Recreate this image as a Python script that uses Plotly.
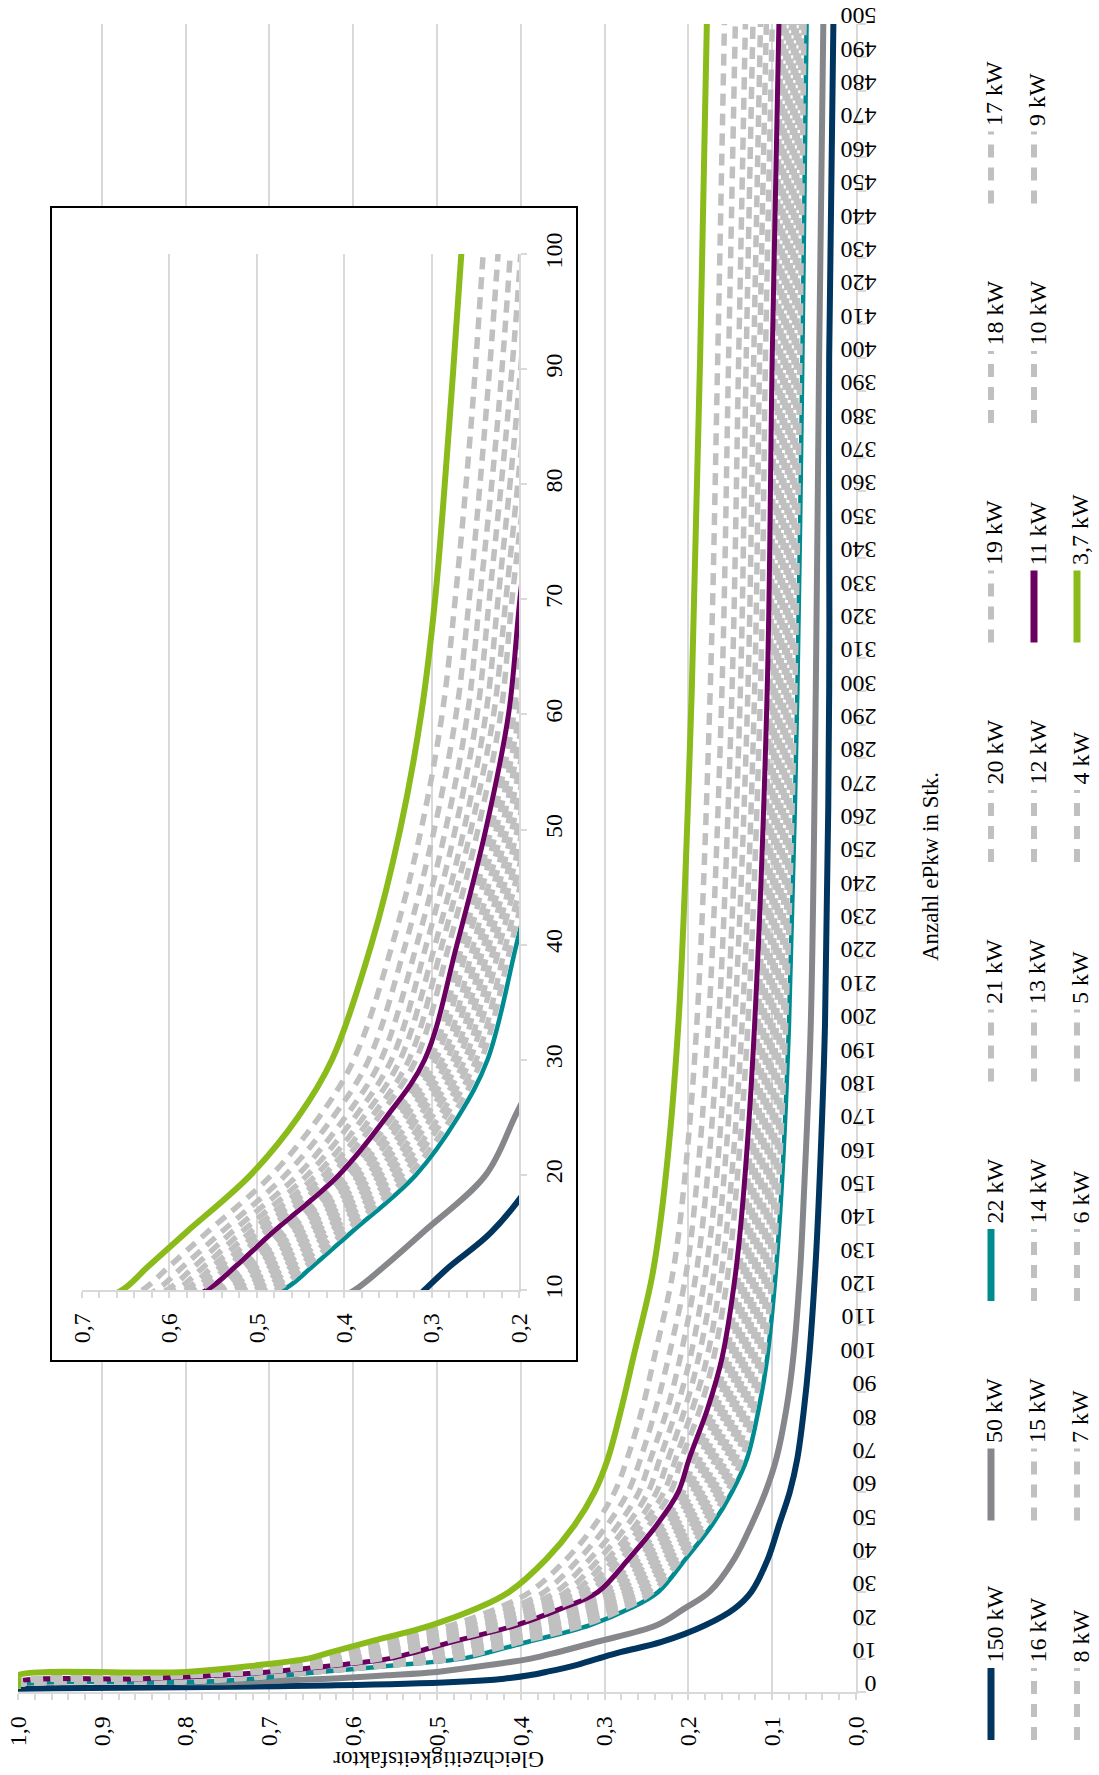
import plotly.graph_objects as go

# ---------------- data ----------------
N = [1, 2, 3, 4, 5, 6, 8, 10, 12, 15, 20, 25, 30, 40, 50, 60, 70, 85, 100, 125, 150, 200, 300, 400, 500]

kw150 = [1.0, 0.62, 0.48, 0.42, 0.39, 0.37, 0.335, 0.308, 0.28, 0.232, 0.18, 0.145, 0.125, 0.105, 0.092, 0.079, 0.07, 0.062, 0.056, 0.049, 0.044, 0.037, 0.032, 0.032, 0.027]
kw50 = [1.0, 1.0, 0.74, 0.63, 0.56, 0.50, 0.44, 0.388, 0.355, 0.31, 0.238, 0.205, 0.175, 0.145, 0.125, 0.108, 0.095, 0.083, 0.075, 0.067, 0.062, 0.054, 0.048, 0.044, 0.039]
kw22 = [1.0, 1.0, 0.78, 0.72, 0.68, 0.64, 0.55, 0.470, 0.437, 0.392, 0.318, 0.27, 0.236, 0.203, 0.172, 0.148, 0.130, 0.116, 0.106, 0.096, 0.089, 0.080, 0.070, 0.064, 0.059]
kw21 = [1, 1, .80, .732, .687, .645, .556, .478, .445, .400, .326, .277, .243, .209, .178, .154, .136, .122, .111, .100, .093, .084, .073, .067, .062]
kw20 = [1, 1, .82, .744, .695, .651, .563, .486, .453, .408, .334, .285, .249, .215, .184, .160, .143, .127, .116, .105, .097, .087, .077, .071, .065]
kw19 = [1, 1, .84, .755, .702, .656, .569, .494, .461, .417, .342, .292, .256, .222, .190, .165, .149, .133, .121, .109, .101, .091, .080, .074, .068]
kw18 = [1, 1, .86, .767, .709, .662, .575, .502, .469, .425, .350, .300, .262, .228, .196, .171, .155, .138, .126, .113, .105, .095, .083, .077, .071]
kw17 = [1, 1, .88, .779, .716, .667, .582, .510, .477, .433, .358, .307, .269, .234, .202, .177, .161, .144, .131, .118, .109, .099, .086, .080, .074]
kw16 = [1, 1, .90, .791, .724, .673, .588, .517, .485, .441, .366, .315, .275, .240, .208, .183, .168, .149, .135, .122, .114, .102, .090, .084, .077]
kw15 = [1, 1, .92, .803, .731, .678, .595, .525, .493, .449, .374, .322, .282, .246, .214, .189, .174, .155, .140, .127, .118, .106, .093, .087, .080]
kw14 = [1, 1, .94, .815, .738, .684, .601, .533, .501, .457, .382, .330, .288, .252, .220, .195, .180, .160, .145, .131, .122, .110, .096, .090, .083]
kw13 = [1, 1, .96, .826, .745, .689, .607, .541, .509, .466, .390, .337, .295, .259, .226, .200, .186, .166, .150, .135, .126, .114, .099, .093, .086]
kw12 = [1, 1, .98, .838, .753, .695, .614, .549, .517, .474, .398, .345, .301, .265, .232, .206, .193, .171, .155, .140, .130, .117, .103, .097, .089]
kw11 = [1.0, 1.0, 1.0, 0.85, 0.76, 0.70, 0.62, 0.557, 0.525, 0.482, 0.406, 0.352, 0.308, 0.271, 0.238, 0.212, 0.199, 0.177, 0.160, 0.144, 0.134, 0.121, 0.106, 0.100, 0.092]
kw10 = [1, 1, 1, .864, .782, .709, .629, .566, .534, .491, .415, .361, .318, .280, .247, .221, .208, .186, .170, .153, .143, .129, .114, .108, .100]
kw9 = [1, 1, 1, .876, .801, .717, .636, .574, .542, .499, .423, .369, .326, .288, .255, .229, .215, .195, .178, .161, .150, .136, .121, .115, .107]
kw8 = [1, 1, 1, .889, .822, .726, .645, .582, .551, .508, .432, .378, .336, .296, .263, .238, .224, .204, .188, .170, .159, .145, .129, .122, .114]
kw7 = [1, 1, 1, .904, .846, .736, .654, .592, .561, .518, .442, .388, .346, .306, .273, .248, .234, .214, .198, .180, .168, .154, .138, .131, .123]
kw6 = [1, 1, 1, .921, .873, .747, .665, .603, .572, .529, .453, .399, .358, .317, .284, .259, .245, .225, .210, .191, .179, .164, .148, .140, .132]
kw5 = [1, 1, 1, .940, .904, .760, .677, .615, .585, .541, .467, .413, .372, .330, .297, .272, .257, .239, .224, .203, .191, .176, .160, .152, .144]
kw4 = [1, 1, 1, .964, .942, .776, .692, .631, .601, .557, .483, .429, .389, .345, .312, .288, .273, .255, .241, .219, .206, .190, .174, .165, .157]
kw3_7 = [1.0, 1.0, 1.0, 1.0, 1.0, 0.80, 0.715, 0.654, 0.625, 0.581, 0.507, 0.453, 0.414, 0.369, 0.336, 0.312, 0.296, 0.280, 0.266, 0.243, 0.229, 0.212, 0.196, 0.186, 0.178]

labels = ["150 kW", "50 kW", "22 kW", "21 kW", "20 kW", "19 kW", "18 kW", "17 kW",
          "16 kW", "15 kW", "14 kW", "13 kW", "12 kW", "11 kW", "10 kW", "9 kW",
          "8 kW", "7 kW", "6 kW", "5 kW", "4 kW", "3,7 kW"]
series = [kw150, kw50, kw22, kw21, kw20, kw19, kw18, kw17, kw16, kw15, kw14, kw13,
          kw12, kw11, kw10, kw9, kw8, kw7, kw6, kw5, kw4, kw3_7]

main_ticks = [round(0.1 * i, 1) for i in range(11)]
inset_ticks = [0.2, 0.3, 0.4, 0.5, 0.6, 0.7]

# ---------------- styles ----------------
solid = {"150 kW": ("#00355f", 6), "50 kW": ("#86878b", 6), "22 kW": ("#008b91", 4.5),
         "11 kW": ("#6b0061", 5), "3,7 kW": ("#8bbb1a", 6)}
DASH_COL = "#c0c0c0"
FONT = "Liberation Serif, Times New Roman, DejaVu Serif, serif"
GRID = "#d9d9d9"

W, H = 1099, 1775
def fx(p):
    return p / W
def fy(p):
    return 1 - p / H

fig = go.Figure()

# dummy trace for the inset box subplot (its white background hides the main grid)
fig.add_trace(go.Scatter(x=[None], y=[None], xaxis="x2", yaxis="y2",
                         showlegend=False, hoverinfo="skip"))

for lab, vals in zip(labels, series):
    if lab in solid:
        col, w = solid[lab]
        line = dict(color=col, width=w, shape="spline", smoothing=1.0)
    else:
        line = dict(color=DASH_COL, width=5.5, dash="12px,8px", shape="spline", smoothing=1.0)
    fig.add_trace(go.Scatter(x=vals, y=N, mode="lines", line=line, name=lab,
                             showlegend=False, xaxis="x", yaxis="y"))
    fig.add_trace(go.Scatter(x=vals, y=N, mode="lines", line=line, name=lab,
                             showlegend=False, xaxis="x3", yaxis="y3"))

tfont = dict(family=FONT, size=24, color="black")
title_font = dict(family=FONT, size=23, color="black")

layout = dict(
    width=W, height=H, autosize=False,
    margin=dict(l=0, r=0, t=0, b=0, pad=0),
    paper_bgcolor="white", plot_bgcolor="white",
    separators=", ",
    showlegend=False,
    font=dict(family=FONT, size=24, color="black"),
    xaxis=dict(domain=[fx(18), fx(856)], range=[1.0, 0.0], anchor="y", automargin=False,
               tickvals=main_ticks, tickformat=".1f", tickangle=-90,
               tickfont=tfont, showgrid=True, gridcolor=GRID, gridwidth=1.5,
               zeroline=False, showline=True, linecolor=GRID, linewidth=1.5,
               ticks="outside", ticklen=6, tickcolor=GRID, tickwidth=1.5,
               minor=dict(dtick=0.02, ticks="outside", ticklen=6, tickcolor=GRID, showgrid=False),
               ticklabelstandoff=7, ticklabeloverflow="allow"),
    yaxis=dict(domain=[fy(1692), fy(24)], range=[0, 500], anchor="x", side="right",
               automargin=False,
               dtick=10, tick0=0, tickangle=180, tickfont=tfont,
               showgrid=False, zeroline=False, showline=True, linecolor=GRID, linewidth=1.5,
               ticks="outside", ticklen=8, tickcolor=GRID, tickwidth=1.5,
               ticklabelstandoff=6, ticklabeloverflow="allow"),
    xaxis2=dict(domain=[fx(51), fx(577)], range=[0, 1], anchor="y2", visible=False,
                automargin=False, showgrid=False, zeroline=False),
    yaxis2=dict(domain=[fy(1361), fy(207)], range=[0, 1], anchor="x2", visible=False,
                automargin=False, showgrid=False, zeroline=False),
    xaxis3=dict(domain=[fx(82), fx(519)], range=[0.7, 0.2], anchor="y3", automargin=False,
                tickvals=inset_ticks, tickformat=".1f", tickangle=-90, tickfont=tfont,
                showgrid=True, gridcolor=GRID, gridwidth=1.5, zeroline=False,
                showline=True, linecolor=GRID, linewidth=1.5,
                ticks="outside", ticklen=6, tickcolor=GRID, tickwidth=1.5,
                minor=dict(dtick=0.02, ticks="outside", ticklen=6, tickcolor=GRID, showgrid=False),
                ticklabelstandoff=6, ticklabeloverflow="allow"),
    yaxis3=dict(domain=[fy(1290), fy(254)], range=[10, 100], anchor="x3", side="right",
                automargin=False,
                dtick=10, tick0=0, tickangle=-90, tickfont=tfont,
                showgrid=False, zeroline=False, showline=True, linecolor=GRID, linewidth=1.5,
                ticks="outside", ticklen=6, tickcolor=GRID, tickwidth=1.5,
                ticklabelstandoff=6, ticklabeloverflow="allow"),
)

shapes = [dict(type="rect", xref="paper", yref="paper", x0=fx(51), x1=fx(577),
               y0=fy(1361), y1=fy(207), line=dict(color="black", width=2),
               fillcolor="rgba(0,0,0,0)", layer="above")]
annotations = [
    dict(text="Anzahl ePkw in Stk.", x=fx(930), y=fy(867), xref="paper", yref="paper",
         showarrow=False, textangle=-90, font=title_font, xanchor="center", yanchor="middle"),
    dict(text="Gleichzeitigkeitsfaktor", x=fx(439), y=fy(1760), xref="paper", yref="paper",
         showarrow=False, textangle=180, font=title_font, xanchor="center", yanchor="middle"),
]

# manual rotated legend
col_x = [991, 1034, 1077]
for i, lab in enumerate(labels):
    c, r = i // 8, i % 8
    xc = col_x[c]
    ybot = 1740 - 219.5 * r
    ytop = ybot - 72
    if lab in solid:
        colr, _ = solid[lab]
        ln = dict(color=colr, width=7)
    else:
        ln = dict(color=DASH_COL, width=6, dash="13px,10px")
    shapes.append(dict(type="line", xref="paper", yref="paper", x0=fx(xc), x1=fx(xc),
                       y0=fy(ybot), y1=fy(ytop), line=ln))
    annotations.append(dict(text=lab, x=fx(xc + 3), y=fy(ytop - 3), xref="paper", yref="paper",
                            showarrow=False, textangle=-90, font=tfont,
                            xanchor="center", yanchor="bottom"))

layout["shapes"] = shapes
layout["annotations"] = annotations
fig.update_layout(**layout)

fig.write_html("out.html", config={"displayModeBar": False},
               post_script="document.body.style.margin='0px';")
